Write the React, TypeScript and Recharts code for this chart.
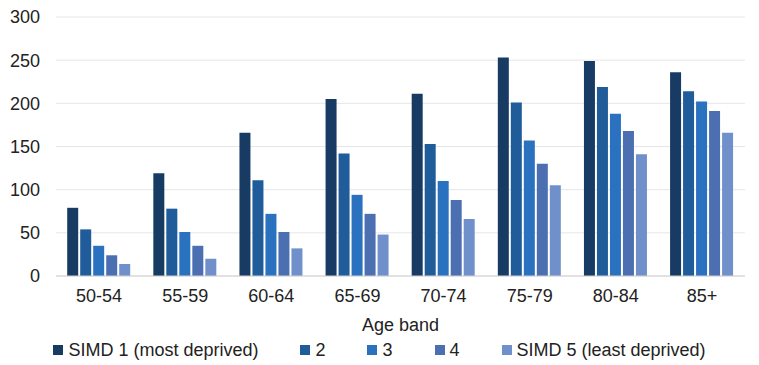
import { BarChart, Bar, XAxis, YAxis, CartesianGrid, Legend, Label } from 'recharts';

const ageBands = ['50-54', '55-59', '60-64', '65-69', '70-74', '75-79', '80-84', '85+'];

const simd1 = [79, 119, 166, 205, 211, 253, 249, 236];
const simd2 = [54, 78, 111, 142, 153, 201, 219, 214];
const simd3 = [35, 51, 72, 94, 110, 157, 188, 202];
const simd4 = [24, 35, 51, 72, 88, 130, 168, 191];
const simd5 = [14, 20, 32, 48, 66, 105, 141, 166];

const yTicks = [0, 50, 100, 150, 200, 250, 300];

const seriesInfo = [
    { key: 'simd1', name: 'SIMD 1 (most deprived)', color: '#183B64' },
    { key: 'simd2', name: '2', color: '#1F5C99' },
    { key: 'simd3', name: '3', color: '#2A72BF' },
    { key: 'simd4', name: '4', color: '#4B6FB1' },
    { key: 'simd5', name: 'SIMD 5 (least deprived)', color: '#7090CC' },
];

const data = ageBands.map((band, i) => ({
    band,
    simd1: simd1[i],
    simd2: simd2[i],
    simd3: simd3[i],
    simd4: simd4[i],
    simd5: simd5[i],
}));

const font = '"Liberation Sans", Arial, sans-serif';

function LegendRow() {
    return (
        <div
            style={{
                display: 'flex',
                justifyContent: 'center',
                alignItems: 'center',
                gap: 42,
                height: 30,
                fontFamily: font,
                fontSize: 18,
                color: '#222',
                paddingLeft: 14,
            }}
        >
            {seriesInfo.map((s) => (
                <div key={s.key} style={{ display: 'flex', alignItems: 'center' }}>
                    <span style={{ width: 10, height: 10, background: s.color, marginRight: 5, display: 'inline-block' }} />
                    <span>{s.name}</span>
                </div>
            ))}
        </div>
    );
}

function AgeBandChart() {
    return (
        <BarChart
            width={759}
            height={365}
            data={data}
            margin={{ top: 17, right: 14, left: 0, bottom: 0 }}
            barCategoryGap="13%"
            barGap={2}
        >
            <CartesianGrid vertical={false} stroke="#e6e6e6" />
            <XAxis
                dataKey="band"
                tickLine={false}
                tickSize={0}
                tickMargin={13}
                height={59}
                axisLine={{ stroke: '#d0d0d0' }}
                tick={{ fill: '#222', fontSize: 18, fontFamily: font }}
            >
                <Label value="Age band" position="insideBottom" offset={4} style={{ fill: '#222', fontSize: 18, fontFamily: font }} />
            </XAxis>
            <YAxis
                domain={[0, 300]}
                ticks={yTicks}
                width={56}
                axisLine={false}
                tickLine={false}
                tickSize={0}
                tickMargin={16}
                tick={{ fill: '#222', fontSize: 18, fontFamily: font }}
            />
            <Legend verticalAlign="bottom" content={() => <LegendRow />} />
            {seriesInfo.map((s) => (
                <Bar key={s.key} dataKey={s.key} name={s.name} fill={s.color} isAnimationActive={false} />
            ))}
        </BarChart>
    );
}

export default function App() {
    return (
        <div style={{ position: 'absolute', left: 0, top: 0 }}>
            <AgeBandChart />
        </div>
    );
}
